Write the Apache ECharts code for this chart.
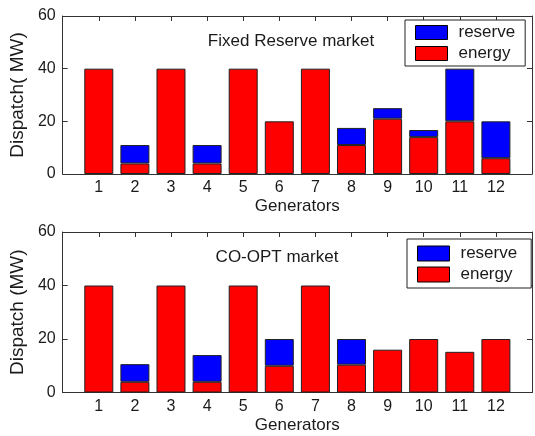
<!DOCTYPE html>
<html>
<head>
<meta charset="utf-8">
<script src="https://cdn.jsdelivr.net/npm/echarts@6/dist/echarts.min.js"></script>
<style>
html,body{margin:0;padding:0;background:#fff;}
#chart{width:535px;height:436px;}
</style>
</head>
<body>
<div id="chart"></div>
<script>
var generators = ['1','2','3','4','5','6','7','8','9','10','11','12'];
var yTicks = [0,20,40,60];

// Fixed Reserve market
var fixedEnergy  = [40, 4, 40, 4, 40, 20, 40, 11, 21, 14, 20, 6];
var fixedReserve = [0, 7, 0, 7, 0, 0, 0, 6.5, 4, 2.7, 20, 14];

// CO-OPT market
var coEnergy  = [40, 4, 40, 4, 40, 10, 40, 10.4, 16, 20, 15.2, 20];
var coReserve = [0, 6.6, 0, 10, 0, 10, 0, 9.6, 0, 0, 0, 0];

var titles = ['Fixed Reserve market', 'CO-OPT market'];
var yNames = ['Dispatch( MW)', 'Dispatch (MW)'];
var xName = 'Generators';
var seriesNames = ['reserve', 'energy'];

var FONT = 'Liberation Sans, Arial, sans-serif';
var AX = '#333';
var TXT = '#1a1a1a';

// axis runs from 0 to 13 (MATLAB xlim), with empty slots at both ends
var cats = [''].concat(generators).concat(['']);
function padded(vals){
  return [null].concat(vals.map(function(v){ return v ? v : null; })).concat([null]);
}

var grids = [
  {left:60, top:16, width:478, height:158},
  {left:60, top:232, width:478, height:160.5}
];

var xAxes = [], yAxes = [], series = [];
grids.forEach(function(g, gi){
  xAxes.push({
    type:'category', gridIndex:gi, position:'bottom', data:cats, boundaryGap:false,
    name:xName, nameLocation:'middle', nameGap:24,
    nameTextStyle:{fontFamily:FONT, fontSize:17, color:TXT},
    axisLine:{show:true, onZero:false, lineStyle:{color:AX, width:1}},
    axisTick:{show:true, inside:true, length:5, interval:0, lineStyle:{color:AX}},
    axisLabel:{fontFamily:FONT, fontSize:16, color:TXT, margin:6, interval:0},
    splitLine:{show:false}
  });
  xAxes.push({
    type:'category', gridIndex:gi, position:'top', data:cats, boundaryGap:false,
    axisLine:{show:true, onZero:false, lineStyle:{color:AX, width:1}},
    axisTick:{show:true, inside:true, length:5, interval:0, lineStyle:{color:AX}},
    axisLabel:{show:false}, splitLine:{show:false}
  });
  yAxes.push({
    type:'value', gridIndex:gi, position:'left', min:0, max:60, interval:20,
    name:yNames[gi], nameLocation:'middle', nameGap:30,
    nameTextStyle:{fontFamily:FONT, fontSize:19, color:TXT},
    axisLine:{show:true, onZero:false, lineStyle:{color:AX, width:1}},
    axisTick:{show:true, inside:true, length:5, lineStyle:{color:AX}},
    axisLabel:{fontFamily:FONT, fontSize:16, color:TXT, margin:7,
      formatter:function(v){ return yTicks.indexOf(v)>=0 ? String(v) : ''; }},
    splitLine:{show:false}
  });
  yAxes.push({
    type:'value', gridIndex:gi, position:'right', min:0, max:60, interval:20,
    axisLine:{show:true, onZero:false, lineStyle:{color:AX, width:1}},
    axisTick:{show:true, inside:true, length:5, lineStyle:{color:AX}},
    axisLabel:{show:false}, splitLine:{show:false}
  });
  var en = gi===0 ? fixedEnergy : coEnergy;
  var re = gi===0 ? fixedReserve : coReserve;
  series.push({
    name:'energy', type:'bar', xAxisIndex:gi*2, yAxisIndex:gi*2, stack:'s'+gi,
    barWidth:29, data:padded(en),
    itemStyle:{color:'#ff0000', borderColor:'#222', borderWidth:1}
  });
  series.push({
    name:'reserve', type:'bar', xAxisIndex:gi*2, yAxisIndex:gi*2, stack:'s'+gi,
    barWidth:29, data:padded(re),
    itemStyle:{color:'#0000ff', borderColor:'#222', borderWidth:1}
  });
});

var legendCommon = {
  data:seriesNames, orient:'vertical', selectedMode:false,
  icon:'rect', itemWidth:32, itemHeight:14, itemGap:4,
  backgroundColor:'#fff', borderColor:'#222', borderWidth:1,
  textStyle:{fontFamily:FONT, fontSize:17, color:TXT, padding:[0,0,0,6]},
  itemStyle:{borderColor:'#000', borderWidth:1}
};

var option = {
  animation:false,
  backgroundColor:'#fff',
  grid:grids,
  xAxis:xAxes,
  yAxis:yAxes,
  legend:[
    Object.assign({}, legendCommon, {left:405, top:20, padding:[4,10,4,10]}),
    Object.assign({}, legendCommon, {left:407, top:239, padding:[6,14,5,10], itemHeight:15})
  ],
  graphic:[
    {type:'text', x:291, y:41, style:{text:titles[0], font:'17px '+FONT, fill:TXT, textAlign:'center', textVerticalAlign:'middle'}},
    {type:'text', x:277, y:257, style:{text:titles[1], font:'17px '+FONT, fill:TXT, textAlign:'center', textVerticalAlign:'middle'}}
  ],
  series:series
};

echarts.init(document.getElementById('chart')).setOption(option);
</script>
</body>
</html>
